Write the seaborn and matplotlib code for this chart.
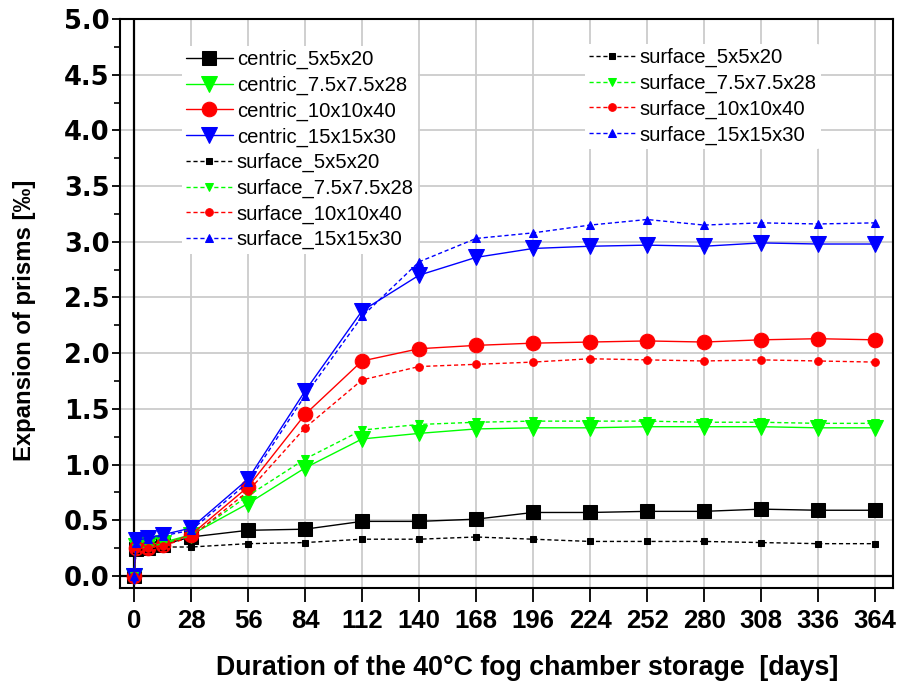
import matplotlib
matplotlib.use("Agg")
import matplotlib.pyplot as plt
import seaborn as sns
from matplotlib.ticker import MultipleLocator, FormatStrFormatter

# storage time in days
days = [0, 1, 7, 14, 28, 56, 84, 112, 140, 168, 196, 224, 252, 280, 308, 336, 364]

# expansion [permille], centric measurement
centric_5 = [0, 0.24, 0.25, 0.28, 0.35, 0.41, 0.42, 0.49, 0.49, 0.51, 0.57, 0.57, 0.58, 0.58, 0.60, 0.59, 0.59]
centric_75 = [0, 0.27, 0.28, 0.30, 0.37, 0.65, 0.97, 1.23, 1.28, 1.32, 1.33, 1.33, 1.34, 1.34, 1.34, 1.33, 1.33]
centric_10 = [0, 0.25, 0.25, 0.28, 0.37, 0.80, 1.45, 1.93, 2.04, 2.07, 2.09, 2.10, 2.11, 2.10, 2.12, 2.13, 2.12]
centric_15 = [0, 0.32, 0.34, 0.37, 0.43, 0.87, 1.66, 2.38, 2.70, 2.86, 2.94, 2.96, 2.97, 2.96, 2.99, 2.98, 2.98]

# expansion [permille], surface measurement
surface_5 = [0, 0.23, 0.24, 0.26, 0.26, 0.29, 0.30, 0.33, 0.33, 0.35, 0.33, 0.31, 0.31, 0.31, 0.30, 0.29, 0.29]
surface_75 = [0, 0.25, 0.26, 0.29, 0.36, 0.72, 1.05, 1.31, 1.36, 1.38, 1.39, 1.39, 1.39, 1.38, 1.38, 1.37, 1.37]
surface_10 = [0, 0.24, 0.25, 0.27, 0.35, 0.76, 1.33, 1.76, 1.88, 1.90, 1.92, 1.95, 1.94, 1.93, 1.94, 1.93, 1.92]
surface_15 = [0, 0.30, 0.33, 0.36, 0.41, 0.84, 1.62, 2.33, 2.82, 3.03, 3.08, 3.15, 3.20, 3.15, 3.17, 3.16, 3.17]

sizes = ["5x5x20", "7.5x7.5x28", "10x10x40", "15x15x30"]
colors = ["black", "#00ff00", "red", "blue"]

sns.set_style("white")
plt.rcParams["font.family"] = ["Liberation Sans", "DejaVu Sans"]
plt.rcParams["text.color"] = "black"
plt.rcParams["axes.labelcolor"] = "black"
plt.rcParams["xtick.color"] = "black"
plt.rcParams["ytick.color"] = "black"

fig = plt.figure(figsize=(9.08, 6.91), dpi=100)
ax = fig.add_axes([120 / 908, 1 - 588 / 691, (893 - 120) / 908, (588 - 19) / 691])

centric = [centric_5, centric_75, centric_10, centric_15]
surface = [surface_5, surface_75, surface_10, surface_15]
c_markers = ["s", "v", "o", "v"]
c_msize = [9.5, 11, 10.5, 11]
s_markers = ["s", "v", "o", "^"]
s_msize = [5, 6, 5.5, 6]

for vals, size, col, mk, ms in zip(centric, sizes, colors, c_markers, c_msize):
    sns.lineplot(x=days, y=vals, ax=ax, color=col, marker=mk, markersize=ms,
                 markeredgecolor=col, linewidth=1.0, label=f"centric_{size}",
                 zorder=4)
for vals, size, col, mk, ms in zip(surface, sizes, colors, s_markers, s_msize):
    sns.lineplot(x=days, y=vals, ax=ax, color=col, marker=mk, markersize=ms,
                 markeredgecolor=col, linewidth=1.0, linestyle=(0, (3, 2)),
                 label=f"surface_{size}", zorder=5)

handles, labels = ax.get_legend_handles_labels()

# zero lines (Origin style)
ax.axhline(0, color="black", lw=1.6, zorder=3)
ax.axvline(0, color="black", lw=1.6, zorder=3)

ax.set_xlim(-6.9, 372.8)
ax.set_ylim(-0.108, 5.0)
ax.xaxis.set_major_locator(MultipleLocator(28))
ax.yaxis.set_major_locator(MultipleLocator(0.5))
ax.yaxis.set_minor_locator(MultipleLocator(0.25))
ax.yaxis.set_major_formatter(FormatStrFormatter("%.1f"))
ax.grid(True, which="major", color="#cccccc", lw=1.3, zorder=0)
ax.set_axisbelow(True)

for sp in ax.spines.values():
    sp.set_color("black")
    sp.set_linewidth(1.5)

ax.tick_params(axis="y", which="major", direction="out", length=6, width=1.3,
               left=True, labelsize=18.5, pad=1.5)
ax.tick_params(axis="y", which="minor", direction="out", length=4, width=1.2, left=True)
ax.tick_params(axis="x", which="major", direction="out", length=10, width=1.3,
               bottom=True, labelsize=18.5, pad=5)
for t in ax.get_yticklabels():
    t.set_fontweight("bold")
    t.set_family("DejaVu Sans")
for t in ax.get_xticklabels():
    t.set_fontweight("bold")

ax.set_xlabel("Duration of the 40°C fog chamber storage  [days]", fontsize=19.3,
              fontweight="bold")
ax.xaxis.set_label_coords((527 - 120) / 773, -(668 - 588) / 569, transform=ax.transAxes)
ax.xaxis.label.set_va("center")
ax.set_ylabel("Expansion of prisms [‰]", fontsize=17.2, fontweight="bold")
ax.yaxis.set_label_coords(-(120 - 25) / 773, (588 - 320) / 569, transform=ax.transAxes)
ax.yaxis.label.set_va("center")

leg_kw = dict(loc="upper left", bbox_transform=fig.transFigure, frameon=True,
              fontsize=14.6, handlelength=2.3, handletextpad=0.2,
              labelspacing=0.32, borderpad=0.2, borderaxespad=0)

leg1 = ax.legend(handles, labels, bbox_to_anchor=(182 / 908, 1 - 46 / 691), **leg_kw)
leg1.get_frame().set_edgecolor("none")
leg1.get_frame().set_alpha(1)
ax.add_artist(leg1)

leg2 = ax.legend(handles[4:], labels[4:], bbox_to_anchor=(585 / 908, 1 - 44 / 691), **leg_kw)
leg2.get_frame().set_edgecolor("none")
leg2.get_frame().set_alpha(1)

plt.savefig("out.png", dpi=100)
plt.close()
